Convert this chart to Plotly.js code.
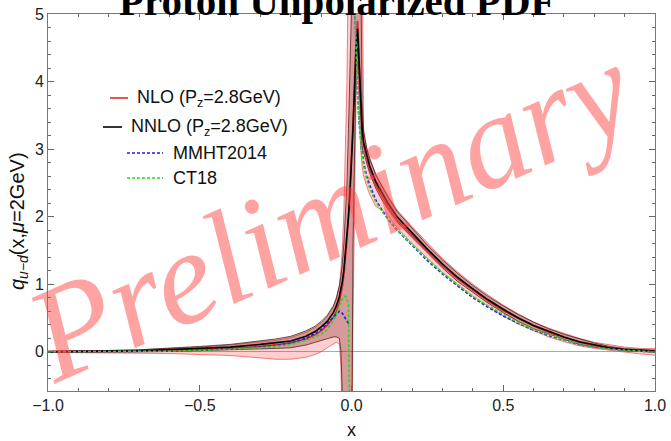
<!DOCTYPE html>
<html>
<head>
<meta charset="utf-8">
<script src="https://cdn.plot.ly/plotly-3.0.1.min.js"></script>
<style>html,body{margin:0;padding:0;background:#fff;} #chart{width:671px;height:441px;}</style>
</head>
<body>
<div id="chart"></div>
<script>
// ---- data ----
const X = [-1, -0.9, -0.8, -0.7, -0.6, -0.5, -0.4, -0.3, -0.25, -0.2,
  -0.15, -0.12, -0.1, -0.08, -0.06, -0.05, -0.04, -0.035, -0.03, -0.025,
  -0.02, -0.015, -0.01, -0.005, 0, 0.005, 0.01, 0.015, 0.02, 0.025,
  0.03, 0.035, 0.04, 0.05, 0.06, 0.08, 0.1, 0.12, 0.15, 0.2,
  0.25, 0.3, 0.35, 0.4, 0.45, 0.5, 0.55, 0.6, 0.65, 0.7,
  0.75, 0.8, 0.85, 0.9, 0.95, 1];

const nnloMid = [0.0, 0.0, 0.01, 0.015, 0.03, 0.05, 0.07, 0.11, 0.13, 0.16,
  0.23, 0.3, 0.37, 0.45, 0.58, 0.68, 0.82, 0.92, 1.05, 1.22,
  1.45, 1.7, 2.0, 2.35, 2.75, 3.3, 3.9, 4.5, 4.78, 4.3,
  3.7, 3.3, 3.1, 2.9, 2.75, 2.52, 2.35, 2.2, 2.0, 1.76,
  1.52, 1.3, 1.1, 0.93, 0.77, 0.63, 0.5, 0.39, 0.3, 0.22,
  0.15, 0.1, 0.06, 0.035, 0.02, 0.01];
const nnloHi = [0.01, 0.01, 0.02, 0.03, 0.05, 0.08, 0.11, 0.16, 0.19, 0.23,
  0.31, 0.38, 0.45, 0.54, 0.68, 0.8, 0.98, 1.12, 1.32, 1.62,
  2.0, 2.5, 3.3, 4.3, 5.5, 6, 6, 6, 6, 6,
  6, 3.7, 3.25, 3.02, 2.86, 2.62, 2.45, 2.29, 2.08, 1.83,
  1.58, 1.36, 1.16, 0.98, 0.82, 0.68, 0.55, 0.44, 0.34, 0.26,
  0.19, 0.13, 0.08, 0.05, 0.035, 0.025];
const nnloLo = [-0.01, -0.01, 0.0, 0.0, 0.005, 0.015, 0.025, 0.04, 0.05, 0.06,
  0.1, 0.14, 0.17, 0.2, 0.22, 0.22, 0.2, 0.02, -0.8, -2,
  -2, -2, -2, -2, -2, 1.6, 3.2, 4.2, 4.5, 3.9,
  3.3, 3.0, 2.95, 2.78, 2.64, 2.42, 2.25, 2.11, 1.92, 1.69,
  1.46, 1.24, 1.04, 0.88, 0.72, 0.58, 0.45, 0.34, 0.26, 0.18,
  0.11, 0.07, 0.04, 0.02, 0.005, -0.005];

const nloMid = [0.0, 0.0, 0.005, 0.01, 0.02, 0.035, 0.05, 0.08, 0.1, 0.13,
  0.19, 0.25, 0.31, 0.39, 0.51, 0.6, 0.74, 0.84, 0.97, 1.14,
  1.38, 1.65, 1.98, 2.4, 2.85, 3.4, 4.0, 4.6, 4.9, 4.4,
  3.75, 3.3, 3.05, 2.85, 2.7, 2.47, 2.3, 2.15, 1.95, 1.72,
  1.49, 1.27, 1.08, 0.91, 0.75, 0.61, 0.49, 0.38, 0.29, 0.21,
  0.14, 0.09, 0.05, 0.03, 0.01, 0.0];
const nloHi = [0.01, 0.01, 0.02, 0.03, 0.045, 0.07, 0.1, 0.14, 0.17, 0.21,
  0.29, 0.36, 0.43, 0.52, 0.66, 0.78, 0.98, 1.2, 1.55, 2.1,
  2.9, 4.0, 6, 6, 6, 6, 6, 6, 6, 6,
  6, 6, 3.3, 3.0, 2.86, 2.63, 2.46, 2.31, 2.1, 1.85,
  1.61, 1.38, 1.18, 1.0, 0.84, 0.69, 0.56, 0.44, 0.35, 0.27,
  0.2, 0.14, 0.1, 0.07, 0.05, 0.05];
const nloLo = [-0.01, -0.01, -0.015, -0.02, -0.025, -0.035, -0.055, -0.09, -0.11, -0.11,
  -0.08, -0.04, 0.0, 0.06, 0.12, 0.14, 0.12, -0.2, -1.2, -2,
  -2, -2, -2, -2, -2, 0.5, 2.5, 3.8, 4.3, 3.6,
  3.0, 2.75, 2.6, 2.45, 2.33, 2.15, 2.1, 2.02, 1.84, 1.6,
  1.38, 1.17, 0.99, 0.82, 0.67, 0.53, 0.41, 0.31, 0.22, 0.15,
  0.09, 0.05, 0.02, 0.0, -0.03, -0.05];

const mmht = [0.0, 0.0, 0.0, 0.005, 0.01, 0.02, 0.04, 0.07, 0.09, 0.13,
  0.2, 0.27, 0.33, 0.42, 0.52, 0.57, 0.6, 0.59, 0.57, 0.53,
  0.49, 0.45, 0.42, 0.41, null, 6, 5.2, 4.3, 3.8, 3.4,
  3.15, 2.95, 2.8, 2.6, 2.47, 2.25, 2.1, 1.97, 1.8, 1.57,
  1.35, 1.15, 0.97, 0.8, 0.66, 0.53, 0.42, 0.32, 0.24, 0.17,
  0.11, 0.07, 0.04, 0.02, 0.01, 0.0];
const ct18 = [0.0, 0.0, 0.0, 0.005, 0.01, 0.02, 0.035, 0.06, 0.08, 0.11,
  0.17, 0.22, 0.26, 0.33, 0.46, 0.55, 0.68, 0.74, 0.79, 0.82,
  0.82, 0.78, 0.7, -2, null, 6, 5.3, 4.4, 3.8, 3.4,
  3.1, 2.9, 2.75, 2.55, 2.42, 2.22, 2.08, 1.96, 1.8, 1.58,
  1.37, 1.17, 0.99, 0.82, 0.68, 0.55, 0.43, 0.33, 0.25, 0.18,
  0.12, 0.07, 0.04, 0.02, 0.01, 0.0];

const seriesNames = ['NLO (P<sub>z</sub>=2.8GeV)', 'NNLO (P<sub>z</sub>=2.8GeV)', 'MMHT2014', 'CT18'];
const xTickVals = [-1, -0.5, 0, 0.5, 1];
const xTickText = ['\u22121.0', '\u22120.5', '0.0', '0.5', '1.0'];
const yTickVals = [0, 1, 2, 3, 4, 5];
const yTickText = ['0', '1', '2', '3', '4', '5'];
const titleText = 'Proton Unpolarized PDF';
const watermarkText = 'Preliminary';

// ---- styles ----
const RED = 'rgb(225,40,40)';
const BLACK = 'rgb(0,0,0)';
const BLUE = 'rgb(30,30,230)';
const GREEN = 'rgb(40,215,40)';

const traces = [
  {x: X, y: nloLo, mode: 'lines', line: {color: 'rgba(235,60,60,0.8)', width: 0.8}, showlegend: false, hoverinfo: 'skip'},
  {x: X, y: nloHi, mode: 'lines', fill: 'tonexty', fillcolor: 'rgba(255,30,30,0.22)', line: {color: 'rgba(235,60,60,0.8)', width: 0.8}, showlegend: false, hoverinfo: 'skip'},
  {x: X, y: nnloLo, mode: 'lines', line: {color: 'rgba(40,0,0,0.8)', width: 0.8}, showlegend: false, hoverinfo: 'skip'},
  {x: X, y: nnloHi, mode: 'lines', fill: 'tonexty', fillcolor: 'rgba(90,0,0,0.25)', line: {color: 'rgba(40,0,0,0.8)', width: 0.8}, showlegend: false, hoverinfo: 'skip'},
  {x: X, y: nloMid, mode: 'lines', name: seriesNames[0], line: {color: RED, width: 1.6}, showlegend: false},
  {x: X, y: nnloMid, mode: 'lines', name: seriesNames[1], line: {color: BLACK, width: 1.6}, showlegend: false},
  {x: X, y: mmht, mode: 'lines', name: seriesNames[2], line: {color: BLUE, width: 1.6, dash: '3px,2px'}, showlegend: false},
  {x: X, y: ct18, mode: 'lines', name: seriesNames[3], line: {color: GREEN, width: 1.6, dash: '3px,2px'}, showlegend: false}
];

// pixel helpers for paper coordinates (plot area 48..655 x 14..391)
const L = 48, R = 16, T = 14, B = 50, W = 671, H = 441;
const pw = W - L - R, ph = H - T - B;
const px = v => (v - L) / pw;
const py = v => (H - B - v) / ph;

const legendRows = [
  {x0: 110, x1: 128, tx: 135, y: 98, color: RED, dash: 'solid'},
  {x0: 103, x1: 122, tx: 129, y: 127, color: BLACK, dash: 'solid'},
  {x0: 127, x1: 163, tx: 171, y: 153, color: BLUE, dash: '3px,2px'},
  {x0: 127, x1: 163, tx: 171, y: 178, color: GREEN, dash: '3px,2px'}
];
const shapes = legendRows.map(r => ({type: 'line', xref: 'paper', yref: 'paper',
  x0: px(r.x0), x1: px(r.x1), y0: py(r.y), y1: py(r.y), line: {color: r.color, width: 1.6, dash: r.dash}}));

const annotations = legendRows.map((r, i) => ({xref: 'paper', yref: 'paper', x: px(r.tx), y: py(r.y),
  xanchor: 'left', yanchor: 'middle', showarrow: false, text: seriesNames[i],
  font: {family: 'Liberation Sans, Arial, sans-serif', size: 18, color: '#111'}}));

annotations.push({xref: 'paper', yref: 'paper', x: px(337), y: 1, yanchor: 'bottom', yshift: -12,
  xanchor: 'center', showarrow: false, text: '<b>' + titleText + '</b>',
  font: {family: 'Liberation Serif, Times New Roman, serif', size: 41, color: '#000'}});
annotations.push({xref: 'paper', yref: 'paper', x: px(18), y: py(221), xanchor: 'center', yanchor: 'middle',
  textangle: -90, showarrow: false,
  text: '<i>q</i><sub><i>u\u2212d</i></sub>(x,<i>\u03bc</i>=2GeV)',
  font: {family: 'Liberation Sans, Arial, sans-serif', size: 20, color: '#111'}});
annotations.push({xref: 'paper', yref: 'paper', x: px(330), y: py(212), xanchor: 'center', yanchor: 'middle',
  textangle: -24, showarrow: false, text: '<i>' + watermarkText + '</i>',
  font: {family: 'Liberation Serif, Times New Roman, serif', size: 134, color: 'rgba(255,70,70,0.5)'}});

const layout = {
  width: W, height: H,
  margin: {l: L, r: R, t: T, b: B},
  paper_bgcolor: '#fff', plot_bgcolor: '#fff',
  font: {family: 'Liberation Sans, Arial, sans-serif', size: 16, color: '#222'},
  showlegend: false,
  xaxis: {range: [-1, 1], tickvals: xTickVals, ticktext: xTickText, ticks: 'inside', ticklen: 6,
    tickcolor: '#666', showline: true, linecolor: '#777', linewidth: 1, mirror: 'ticks',
    showgrid: false, zeroline: false,
    minor: {dtick: 0.1, tick0: 0, ticks: 'inside', ticklen: 3, tickcolor: '#666', showgrid: false},
    title: {text: 'x', font: {size: 18, color: '#111'}, standoff: 10}},
  yaxis: {range: [-0.58, 5], tickvals: yTickVals, ticktext: yTickText, ticks: 'inside', ticklen: 6,
    tickcolor: '#666', showline: true, linecolor: '#777', linewidth: 1, mirror: 'ticks',
    showgrid: false, zeroline: true, zerolinecolor: '#aaa', zerolinewidth: 1,
    minor: {dtick: 0.2, tick0: 0, ticks: 'inside', ticklen: 3, tickcolor: '#666', showgrid: false}},
  shapes: shapes,
  annotations: annotations
};

Plotly.newPlot('chart', traces, layout, {displayModeBar: false, staticPlot: true});
</script>
</body>
</html>
